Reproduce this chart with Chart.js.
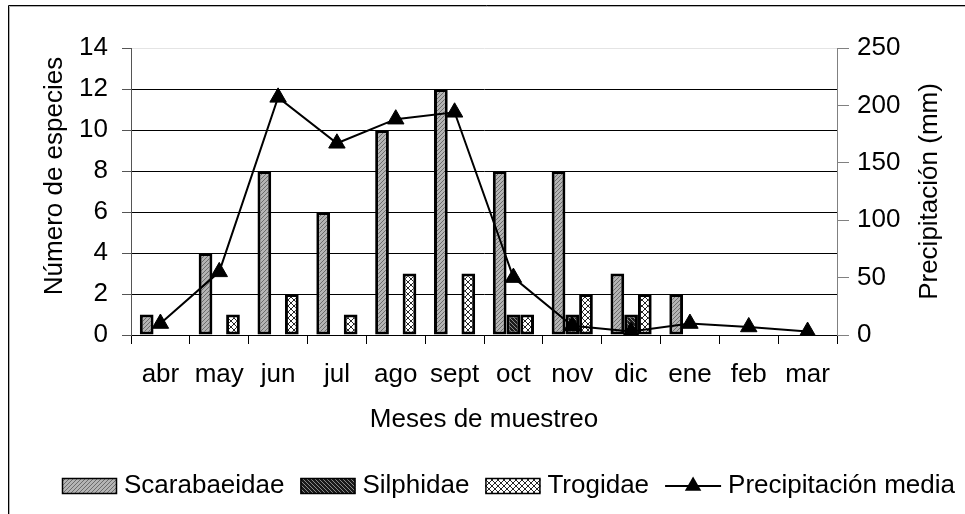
<!DOCTYPE html>
<html><head><meta charset="utf-8">
<script src="https://cdn.jsdelivr.net/npm/chart.js@4.4.1/dist/chart.umd.min.js"></script>
<style>html,body{margin:0;padding:0;background:#fff;}canvas{display:block;}</style>
</head><body>
<canvas id="c" width="965" height="514"></canvas>
<script>
const months = ['abr','may','jun','jul','ago','sept','oct','nov','dic','ene','feb','mar'];
const scarabaeidae = [1,4,8,6,10,12,8,8,3,2,null,null];
const silphidae = [null,null,null,null,null,null,1,1,1,null,null,null];
const trogidae = [null,1,2,1,3,3,1,2,2,null,null,null];
const precipitacion = [10,55,207,167,188,194,50,8,3,10,7,3];
const leftTicks = [0,2,4,6,8,10,12,14];
const rightTicks = [0,50,100,150,200,250];
const seriesNames = ['Scarabaeidae','Silphidae','Trogidae','Precipitación media'];
const axisTitles = {x:'Meses de muestreo', y:'Número de especies', y2:'Precipitación (mm)'};

const FONT = "'Liberation Sans', Arial, sans-serif";
const FS = 26;
const canvas = document.getElementById('c');
const ctx = canvas.getContext('2d');

function makePattern(size, bg, fg, pixels) {
  const c = document.createElement('canvas'); c.width = size; c.height = size;
  const g = c.getContext('2d');
  g.fillStyle = bg; g.fillRect(0,0,size,size);
  g.fillStyle = fg; pixels.forEach(p => g.fillRect(p[0], p[1], 1, 1));
  return ctx.createPattern(c, 'repeat');
}
const patScar = makePattern(4, '#b4b4b4', '#6c6c6c', [[0,3],[1,2],[2,1],[3,0]]);
const patSilph = makePattern(4, '#1a1a1a', '#8a8a8a', [[0,0],[1,1],[2,2],[3,3]]);
const patTrog = makePattern(6, '#ffffff', '#262626', [[0,0],[1,1],[2,2],[3,3],[4,4],[5,5],[5,0],[4,1],[3,2],[2,3],[1,4],[0,5]]);
const fills = [patScar, patSilph, patTrog];

const decorPlugin = {
  id: 'decor',
  afterDraw(chart) {
    const c = chart.ctx;
    const ca = chart.chartArea;
    c.save();
    // frame
    c.strokeStyle = '#000'; c.lineWidth = 1;
    c.beginPath(); c.moveTo(8.5, 514); c.lineTo(8.5, 5.5); c.lineTo(965, 5.5); c.stroke();
    c.strokeStyle = '#b0b0b0';
    c.beginPath(); c.moveTo(9.5, 514); c.lineTo(9.5, 6.5); c.lineTo(965, 6.5); c.stroke();
    // y titles
    c.fillStyle = '#000';
    c.font = FS + 'px ' + FONT;
    c.textAlign = 'center'; c.textBaseline = 'middle';
    c.save(); c.translate(55, 176); c.rotate(-Math.PI/2); c.fillText(axisTitles.y, 0, 0); c.restore();
    c.save(); c.translate(930, (ca.top + ca.bottom)/2); c.rotate(-Math.PI/2); c.fillText(axisTitles.y2, 0, 0); c.restore();
    // legend
    const ly = 486, bw = 55, bh = 16, gapT = 7, gapI = 16, lineW = 56;
    let x = 62;
    c.textAlign = 'left';
    for (let i = 0; i < 3; i++) {
      c.fillStyle = fills[i];
      c.fillRect(x, ly - bh/2, bw, bh);
      c.strokeStyle = '#000'; c.lineWidth = 1.5;
      c.strokeRect(x + 0.5, ly - bh/2 + 0.5, bw - 1, bh - 1);
      x += bw + gapT;
      c.fillStyle = '#000';
      c.fillText(seriesNames[i], x, ly);
      x += c.measureText(seriesNames[i]).width + gapI;
    }
    c.strokeStyle = '#000'; c.lineWidth = 2;
    c.beginPath(); c.moveTo(x, ly); c.lineTo(x + lineW, ly); c.stroke();
    const tx = x + lineW/2, r = 9.5;
    c.beginPath();
    c.moveTo(tx, ly - r); c.lineTo(tx + r*0.866, ly + r/2); c.lineTo(tx - r*0.866, ly + r/2); c.closePath();
    c.fillStyle = '#000'; c.fill();
    x += lineW + gapT;
    c.fillText(seriesNames[3], x, ly);
    c.restore();
  }
};

const barCommon = {type:'bar', yAxisID:'y', order:1, borderColor:'#000', borderWidth:3, borderSkipped:false,
  categoryPercentage:0.7, barPercentage:1.0};

new Chart(ctx, {
  data: {
    labels: months,
    datasets: [
      Object.assign({label: seriesNames[0], data: scarabaeidae, backgroundColor: patScar}, barCommon),
      Object.assign({label: seriesNames[1], data: silphidae, backgroundColor: patSilph}, barCommon),
      Object.assign({label: seriesNames[2], data: trogidae, backgroundColor: patTrog}, barCommon),
      {type:'line', label: seriesNames[3], data: precipitacion, yAxisID:'y2', order:0,
       borderColor:'#000', borderWidth:2, tension:0, fill:false,
       pointStyle:'triangle', pointRadius:9.5, pointHoverRadius:9.5,
       pointBackgroundColor:'#000', pointBorderColor:'#000', pointBorderWidth:1}
    ]
  },
  options: {
    responsive:false, animation:false, devicePixelRatio:1,
    layout:{padding:{left:0, right:0, top:48, bottom:69}},
    plugins:{legend:{display:false}, tooltip:{enabled:false}},
    scales:{
      x:{
        offset:true,
        grid:{offset:true, drawOnChartArea:false, tickLength:9, tickColor:'#000', lineWidth:1},
        border:{color:'#000', width:1},
        ticks:{font:{family:FONT, size:FS}, color:'#000', padding:15, maxRotation:0, autoSkip:false},
        title:{display:true, text:axisTitles.x, font:{family:FONT, size:FS}, color:'#000', padding:{top:0, bottom:10}},
        afterFit: s => { s.height = 110; }
      },
      y:{
        position:'left', min:0, max:14,
        afterBuildTicks: s => { s.ticks = leftTicks.map(v => ({value:v})); },
        ticks:{font:{family:FONT, size:FS}, color:'#000', padding:14},
        grid:{color: c => (c.tick && c.tick.value === 14) ? '#e4e4e4' : '#000', tickLength:9, tickColor:'#555', lineWidth:1},
        border:{color:'#555', width:1},
        afterFit: s => { s.width = 131; }
      },
      y2:{
        position:'right', min:0, max:250,
        afterBuildTicks: s => { s.ticks = rightTicks.map(v => ({value:v})); },
        ticks:{font:{family:FONT, size:FS}, color:'#000', padding:8},
        grid:{drawOnChartArea:false, tickLength:12, tickColor:'#808080'},
        border:{color:'#808080', width:1},
        afterFit: s => { s.width = 965 - 837; }
      }
    }
  },
  plugins:[decorPlugin]
});
</script>
</body></html>
